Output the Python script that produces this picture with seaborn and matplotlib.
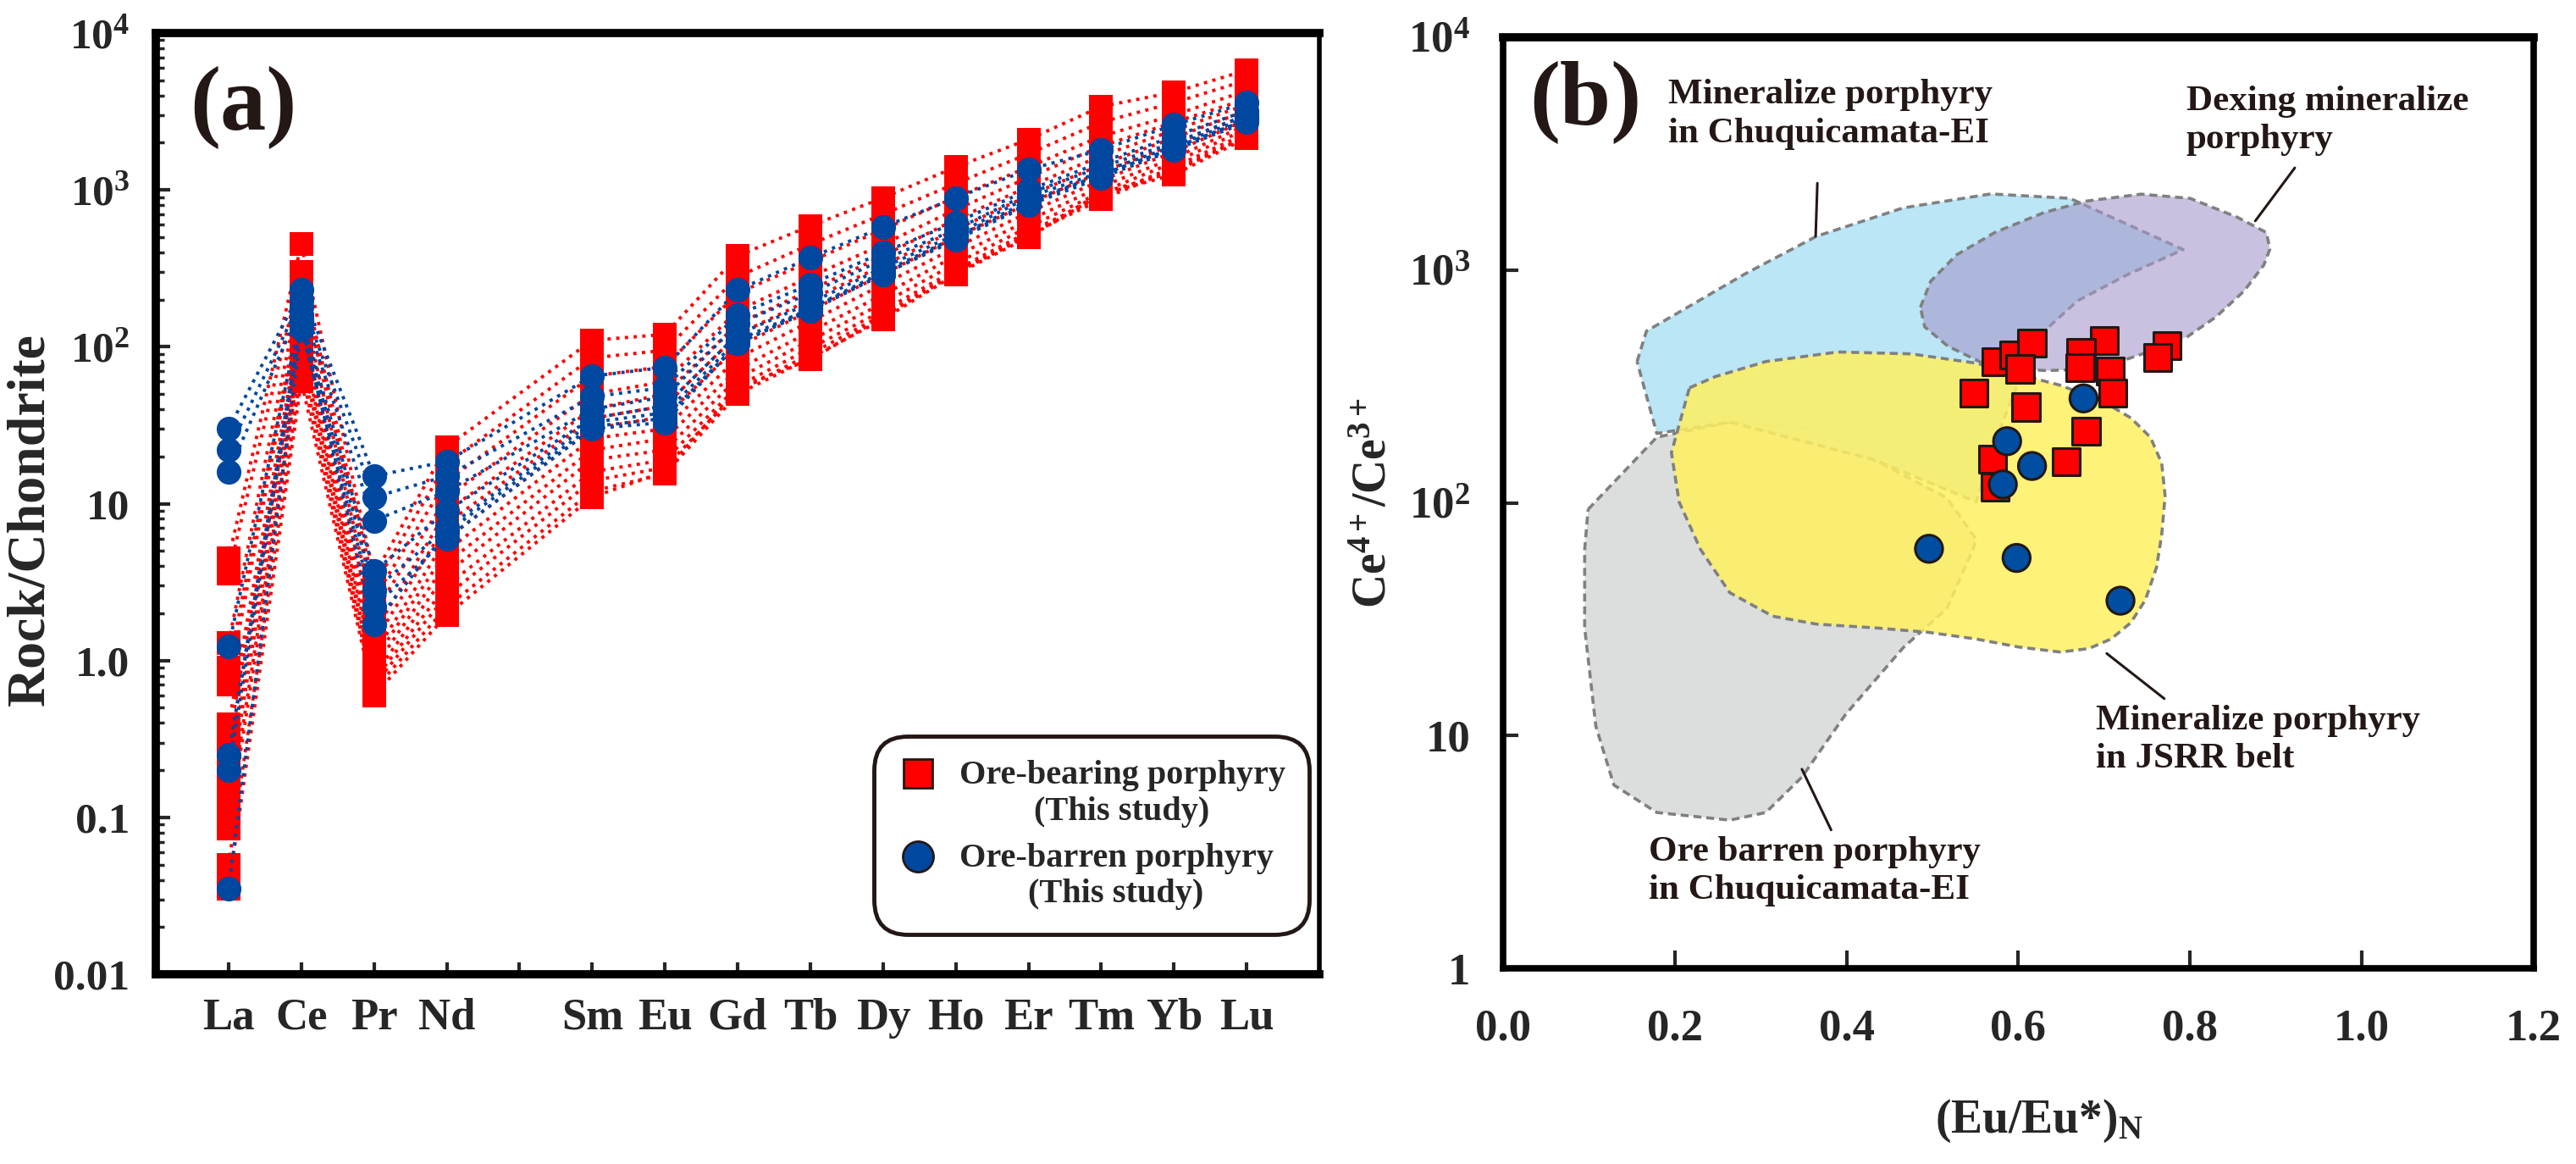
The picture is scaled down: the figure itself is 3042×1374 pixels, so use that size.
import numpy as np
import pandas as pd
import matplotlib
matplotlib.use("Agg")
import matplotlib.pyplot as plt
import matplotlib.ticker as mticker
import matplotlib.transforms as mtransforms
from matplotlib.lines import Line2D
from matplotlib.legend_handler import HandlerLine2D
import seaborn as sns

# ---------------- data: panel (a) chondrite-normalised REE ----------------
elements = ["La", "Ce", "Pr", "Nd", "Sm", "Eu", "Gd", "Tb", "Dy", "Ho", "Er", "Tm", "Yb", "Lu"]
element_pos = [0, 1, 2, 3, 5, 6, 7, 8, 9, 10, 11, 12, 13, 14]
tick_labels_a = ["La", "Ce", "Pr", "Nd", "", "Sm", "Eu", "Gd", "Tb", "Dy", "Ho", "Er", "Tm", "Yb", "Lu"]

ore_bearing_ree = [
    [4.5, 450, 3.5, 23, 110, 120, 380, 590, 890, 1400, 2100, 3400, 4200, 5800],
    [3.6, 300, 3.0, 18, 85, 95, 280, 450, 700, 1100, 1700, 2700, 3600, 5000],
    [1.3, 250, 2.5, 14, 65, 75, 220, 350, 560, 900, 1400, 2200, 3000, 4300],
    [0.9, 200, 2.0, 11, 50, 60, 170, 280, 450, 750, 1200, 1900, 2700, 3800],
    [0.7, 180, 1.5, 9, 40, 50, 140, 230, 380, 650, 1050, 1650, 2400, 3500],
    [0.39, 150, 1.3, 7.5, 35, 42, 120, 200, 330, 560, 920, 1450, 2150, 3200],
    [0.3, 140, 1.1, 6, 30, 36, 100, 170, 290, 500, 820, 1300, 1950, 3000],
    [0.25, 120, 1.0, 5, 26, 30, 85, 145, 250, 430, 720, 1150, 1750, 2800],
    [0.18, 110, 0.9, 4.2, 22, 26, 72, 125, 215, 380, 640, 1050, 1600, 2600],
    [0.14, 100, 0.8, 3.6, 19, 22, 63, 110, 190, 340, 580, 970, 1500, 2450],
    [0.1, 90, 0.75, 3.0, 16, 19, 56, 98, 170, 310, 540, 900, 1400, 2300],
    [0.085, 80, 0.7, 2.6, 14, 17, 52, 90, 160, 300, 520, 870, 1350, 2200],
    [0.05, 70, 0.65, 2.2, 12, 15.5, 50, 85, 150, 290, 500, 940, 1250, 2150],
    [0.035, 60, 0.6, 1.95, 11, 16, 55, 83, 155, 295, 510, 960, 1300, 2200],
]
ore_barren_ree = [
    [30, 230, 15, 18.6, 65, 74, 230, 370, 580, 890, 1350, 1800, 2600, 3600],
    [22, 200, 11, 15, 48, 55, 160, 250, 400, 620, 1000, 1500, 2200, 3200],
    [16, 180, 7.8, 12, 40, 48, 140, 220, 360, 560, 950, 1400, 2000, 3000],
    [1.23, 160, 3.7, 9, 35, 42, 120, 190, 320, 520, 900, 1300, 1900, 2900],
    [0.25, 150, 2.8, 7, 33, 38, 110, 175, 300, 500, 850, 1250, 1850, 2800],
    [0.2, 140, 1.7, 6.6, 31, 35, 105, 170, 290, 480, 800, 1200, 1800, 2700],
    [0.035, 130, 2.2, 6, 30, 33, 105, 175, 290, 490, 820, 1250, 1850, 2800],
]
yticks_a = [0.01, 0.1, 1, 10, 100, 1000, 10000]
ytick_labels_a = ["0.01", "0.1", "1.0", "10", r"$10^{2}$", r"$10^{3}$", r"$10^{4}$"]

# ---------------- data: panel (b) Ce4+/Ce3+ vs Eu/Eu* ----------------
bearing_eu = [0.574, 0.595, 0.616, 0.602, 0.548, 0.609, 0.700, 0.673, 0.672, 0.707,
              0.710, 0.773, 0.762, 0.679, 0.656, 0.570, 0.573]
bearing_ce = [404, 431, 486, 376, 297, 258, 498, 442, 380, 368,
              296, 473, 421, 203, 150, 154, 117]
barren_eu = [0.676, 0.587, 0.616, 0.582, 0.496, 0.598, 0.719]
barren_ce = [281, 184, 144, 120, 63.5, 58, 38]

xticks_b = [0.0, 0.2, 0.4, 0.6, 0.8, 1.0, 1.2]
yticks_b = [1, 10, 100, 1000, 10000]
ytick_labels_b = ["1", "10", r"$10^{2}$", r"$10^{3}$", r"$10^{4}$"]

# field outlines (Eu/Eu*, log10 Ce4+/Ce3+)
gray_x = [0.099, 0.179, 0.264, 0.365, 0.433, 0.517, 0.551, 0.547, 0.517, 0.466, 0.399,
          0.348, 0.306, 0.264, 0.179, 0.129, 0.108, 0.095, 0.095]
gray_logy = [1.972, 2.282, 2.347, 2.314, 2.184, 2.021, 1.842, 1.799, 1.547, 1.378, 1.092,
             0.822, 0.670, 0.637, 0.670, 0.788, 1.041, 1.462, 1.799]
blue_x = [0.156, 0.167, 0.205, 0.281, 0.365, 0.466, 0.568, 0.660, 0.792, 0.728, 0.669,
          0.635, 0.601, 0.568, 0.551, 0.433, 0.264, 0.179]
blue_logy = [2.607, 2.738, 2.819, 2.982, 3.145, 3.267, 3.327, 3.308, 3.088, 2.982, 2.868,
             2.754, 2.526, 2.216, 2.004, 2.184, 2.347, 2.298]
purple_x = [0.486, 0.498, 0.528, 0.573, 0.630, 0.679, 0.743, 0.800, 0.855, 0.889, 0.893,
            0.886, 0.863, 0.830, 0.797, 0.748, 0.715, 0.682, 0.633, 0.600, 0.557, 0.518, 0.491]
purple_logy = [2.840, 2.952, 3.065, 3.162, 3.247, 3.296, 3.326, 3.308, 3.227, 3.161, 3.090,
               3.022, 2.910, 2.798, 2.714, 2.644, 2.603, 2.575, 2.568, 2.575, 2.603, 2.673, 2.756]
yellow_x = [0.217, 0.247, 0.306, 0.390, 0.475, 0.551, 0.620, 0.649, 0.699, 0.731, 0.754,
            0.767, 0.771, 0.767, 0.761, 0.748, 0.731, 0.708, 0.682, 0.649, 0.600, 0.551,
            0.495, 0.433, 0.365, 0.314, 0.264, 0.230, 0.205, 0.196]
yellow_logy = [2.494, 2.542, 2.607, 2.648, 2.640, 2.600, 2.533, 2.505, 2.435, 2.365, 2.281,
               2.170, 2.030, 1.862, 1.723, 1.583, 1.485, 1.415, 1.374, 1.359, 1.381, 1.415,
               1.444, 1.463, 1.479, 1.513, 1.614, 1.799, 2.004, 2.216]

# annotation texts and leader lines
field_labels = ["Mineralize porphyry\nin Chuquicamata-EI", "Dexing mineralize\nporphyry",
                "Mineralize porphyry\nin JSRR belt", "Ore barren porphyry\nin Chuquicamata-EI"]
label_anchor_x = [0.160, 0.663, 0.575, 0.141]
label_anchor_y = [0.955, 0.948, 0.283, 0.142]
leader_x = [[0.366, 0.364], [0.922, 0.876], [0.703, 0.770], [0.348, 0.382]]
leader_logy = [[3.373, 3.145], [3.439, 3.211], [1.353, 1.159], [0.856, 0.595]]

RED = "#FF0000"
BLUE = "#0047A0"
EDGE = "#231815"

# ---------------- style ----------------
sns.set_style("ticks")
plt.rcParams["font.family"] = ["Liberation Serif", "DejaVu Serif"]
plt.rcParams["font.weight"] = "bold"
plt.rcParams["axes.labelweight"] = "bold"
plt.rcParams["mathtext.fontset"] = "custom"
plt.rcParams["mathtext.rm"] = "Liberation Serif:bold"
plt.rcParams["mathtext.bf"] = "Liberation Serif:bold"
plt.rcParams["mathtext.it"] = "Liberation Serif:bold:italic"

fig = plt.figure(figsize=(30.42, 13.74), dpi=100)
fig.patch.set_facecolor("white")
axa = fig.add_axes([0.0605, 0.163, 0.4517, 0.8086])
axb = fig.add_axes([0.5835, 0.168, 0.400, 0.800])

# ---------------- panel (a) ----------------
axa.set_yscale("log")


def long_form(rows, group):
    recs = []
    for i, vals in enumerate(rows):
        for p, el, v in zip(element_pos, elements, vals):
            recs.append({"sample": f"{group}{i}", "group": group, "pos": p, "element": el, "value": v})
    return pd.DataFrame(recs)


df_bear = long_form(ore_bearing_ree, "bearing")
df_barr = long_form(ore_barren_ree, "barren")

sns.lineplot(data=df_bear, x="pos", y="value", units="sample", estimator=None, sort=False,
             color=RED, marker="s", markersize=20, markeredgewidth=0, linestyle=":",
             linewidth=2.8, legend=False, ax=axa, zorder=2)
sns.lineplot(data=df_barr, x="pos", y="value", units="sample", estimator=None, sort=False,
             color=BLUE, marker="o", markersize=21, markeredgewidth=0, linestyle=":",
             linewidth=2.8, legend=False, ax=axa, zorder=3)

axa.set_xlim(-1, 15)
axa.set_ylim(0.01, 10000)
axa.set_xticks(range(15))
axa.set_xticklabels(tick_labels_a)
axa.yaxis.set_major_locator(mticker.FixedLocator(yticks_a))
axa.yaxis.set_major_formatter(mticker.FixedFormatter(ytick_labels_a))
axa.yaxis.set_minor_locator(mticker.LogLocator(base=10, subs=np.arange(2, 10), numticks=20))
axa.yaxis.set_minor_formatter(mticker.NullFormatter())
axa.set_xlabel("")
axa.set_ylabel("Rock/Chondrite", fontsize=46, fontweight="bold")
axa.yaxis.set_label_coords(-0.086, 0.483)
axa.tick_params(axis="y", which="major", direction="in", length=12, width=3, labelsize=37, pad=22)
axa.tick_params(axis="y", which="minor", direction="in", length=7, width=2.5)
axa.tick_params(axis="x", which="major", direction="in", length=10, width=3, labelsize=38, pad=20)
for sp in axa.spines.values():
    sp.set_visible(True)
    sp.set_linewidth(7)
    sp.set_color("black")
axa.spines["right"].set_linewidth(4)
axa.text(0.029, 0.965, "(a)", transform=axa.transAxes, fontsize=78, fontweight="bold",
         ha="left", va="top", color="#231815")


class ShiftedHandler(HandlerLine2D):
    def __init__(self, shift, **kw):
        super().__init__(**kw)
        self.shift = shift

    def create_artists(self, legend, orig_handle, xdescent, ydescent, width, height,
                       fontsize, trans):
        arts = super().create_artists(legend, orig_handle, xdescent, ydescent, width,
                                      height, fontsize, trans)
        for a in arts:
            a.set_transform(mtransforms.Affine2D().translate(0, self.shift) + trans)
        return arts


h_bear = Line2D([], [], linestyle="none", marker="s", markersize=24, markerfacecolor=RED,
                markeredgecolor=EDGE, markeredgewidth=2)
h_barr = Line2D([], [], linestyle="none", marker="o", markersize=26, markerfacecolor=BLUE,
                markeredgecolor=EDGE, markeredgewidth=2)
leg = axa.legend([h_bear, h_barr],
                 ["Ore-bearing porphyry\n(This study)", "Ore-barren porphyry\n(This study)"],
                 loc="upper left", bbox_to_anchor=(0.617, 0.253), borderaxespad=0,
                 prop={"family": "Liberation Serif", "weight": "bold", "size": 29},
                 frameon=True, fancybox=True, handlelength=1.2, handletextpad=0.6,
                 labelspacing=0.45, borderpad=0.7,
                 handler_map={h_bear: ShiftedHandler(17), h_barr: ShiftedHandler(17)})
for t in leg.get_texts():
    t.set_multialignment("center")
frame = leg.get_frame()
frame.set_edgecolor("#231815")
frame.set_linewidth(3.5)
frame.set_facecolor("white")
frame.set_alpha(1)
frame.set_boxstyle("round,pad=0,rounding_size=1.0")

# ---------------- panel (b) ----------------
axb.set_yscale("log")
fields = [
    (gray_x, gray_logy, "#DCDEDD", 1.0, 1),
    (blue_x, blue_logy, "#B4E4F6", 0.92, 2),
    (purple_x, purple_logy, "#A599CB", 0.6, 3),
    (yellow_x, yellow_logy, "#FFF060", 0.85, 4),
]
for fx, fly, col, alp, z in fields:
    fy = np.power(10.0, np.array(fly))
    axb.fill(fx, fy, facecolor=col, alpha=alp, edgecolor="none", zorder=z)
    axb.plot(list(fx) + [fx[0]], list(fy) + [fy[0]], color="#808080",
             linestyle=(0, (2.6, 1.6)), linewidth=2.6, zorder=z)

df_b = pd.DataFrame({
    "eu": bearing_eu + barren_eu,
    "ce": bearing_ce + barren_ce,
    "group": ["Ore-bearing"] * len(bearing_eu) + ["Ore-barren"] * len(barren_eu),
})
sns.scatterplot(data=df_b, x="eu", y="ce", hue="group", style="group",
                palette={"Ore-bearing": RED, "Ore-barren": "#004EA2"},
                markers={"Ore-bearing": "s", "Ore-barren": "o"},
                s=540, edgecolor=EDGE, linewidth=2.2, legend=False, ax=axb, zorder=6)

for lx, lly in zip(leader_x, leader_logy):
    axb.plot(lx, np.power(10.0, np.array(lly)), color="#231815", linewidth=2.2, zorder=7)
for txt, tx, ty in zip(field_labels, label_anchor_x, label_anchor_y):
    axb.text(tx, ty, txt, transform=axb.transAxes, fontsize=31, fontweight="bold",
             ha="left", va="top", linespacing=1.25, color="#231815", zorder=8)

axb.text(0.026, 0.975, "(b)", transform=axb.transAxes, fontsize=78, fontweight="bold",
         ha="left", va="top", color="#231815")

axb.set_xlim(0, 1.2)
axb.set_ylim(1, 10000)
axb.set_xticks(xticks_b)
axb.set_xticklabels([f"{v:.1f}" for v in xticks_b])
axb.yaxis.set_major_locator(mticker.FixedLocator(yticks_b))
axb.yaxis.set_major_formatter(mticker.FixedFormatter(ytick_labels_b))
axb.yaxis.set_minor_locator(mticker.NullLocator())
axb.tick_params(axis="y", which="major", direction="in", length=13, width=3, labelsize=38, pad=28)
axb.tick_params(axis="x", which="major", direction="in", length=15, width=3, labelsize=38, pad=34)
axb.set_xlabel(r"(Eu/Eu*)$_{\mathregular{N}}$", fontsize=40, fontweight="bold")
axb.xaxis.set_label_coords(0.52, -0.139)
axb.set_ylabel(r"Ce$^{4+}$/Ce$^{3+}$", fontsize=40, fontweight="bold")
axb.yaxis.set_label_coords(-0.104, 0.5)
for sp in axb.spines.values():
    sp.set_visible(True)
    sp.set_linewidth(5.5)
    sp.set_color("black")
axb.spines["top"].set_linewidth(7)

fig.savefig("out.png", dpi=100, facecolor="white")
